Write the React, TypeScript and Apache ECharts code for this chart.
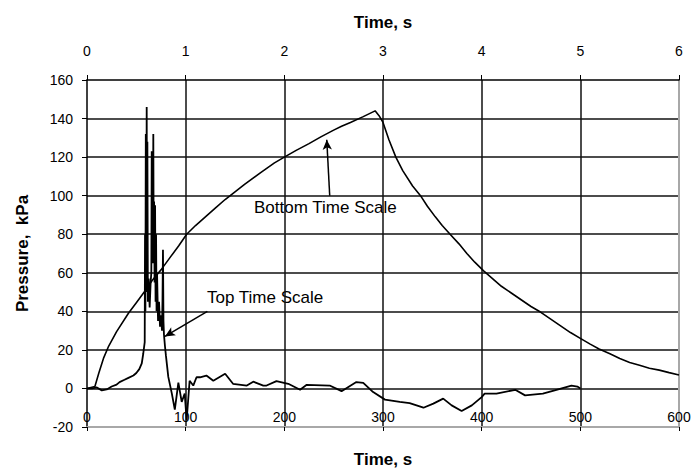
import React, { useEffect, useRef } from "react";
import * as echarts from "echarts";

// Bottom time scale curve (time in s, 0-600)
const bottomTime = [0, 8, 12, 17, 22, 30, 42, 50, 58, 66, 75, 85, 93, 101, 110, 120, 130, 140, 150, 160, 176, 190, 200, 212, 225, 237, 250, 258, 267, 280, 292, 296, 300, 306, 313, 320, 330, 338, 345, 353, 360, 368, 377, 385, 393, 402, 411, 420, 430, 440, 450, 460, 470, 480, 490, 500, 510, 519, 530, 540, 550, 560, 570, 580, 590, 600];
const bottomPressure = [0, 1, 8, 16, 22, 29.5, 39, 44.5, 50, 56, 61.5, 68.5, 74, 80, 84.5, 89, 93.5, 98, 102, 106, 112, 117, 120, 123.5, 127, 130.5, 134, 136, 138, 141, 144, 141.5, 138, 129, 120, 113, 105, 100, 94.5, 89, 84.5, 80, 75, 70, 65.5, 61, 57, 53, 49.5, 46, 42.5, 39.5, 36, 32.5, 29, 26, 23, 20.5, 18, 15.5, 13.5, 12, 10.5, 9.5, 8.2, 7];

// Top time scale curve (time in s, 0-6)
const topTime = [0, 0.05, 0.1, 0.15, 0.2, 0.25, 0.3, 0.33, 0.38, 0.42, 0.47, 0.5, 0.53, 0.555, 0.57, 0.585, 0.588, 0.592, 0.596, 0.6, 0.605, 0.608, 0.612, 0.617, 0.625, 0.635, 0.645, 0.652, 0.656, 0.66, 0.665, 0.668, 0.672, 0.676, 0.68, 0.685, 0.69, 0.695, 0.7, 0.705, 0.71, 0.72, 0.73, 0.74, 0.75, 0.76, 0.765, 0.77, 0.775, 0.78, 0.79, 0.8, 0.824, 0.86, 0.89, 0.926, 0.96, 0.99, 1.01, 1.04, 1.077, 1.11, 1.145, 1.21, 1.28, 1.4, 1.48, 1.62, 1.685, 1.787, 1.82, 1.92, 2.04, 2.16, 2.227, 2.46, 2.58, 2.73, 2.8, 2.9, 3.02, 3.07, 3.17, 3.27, 3.41, 3.51, 3.61, 3.696, 3.797, 3.9, 4.0, 4.03, 4.15, 4.34, 4.44, 4.62, 4.74, 4.91, 4.97, 5.0];
const topPressure = [0, 0, 0.5, -1, -0.5, 1, 2, 3.3, 4.5, 5.5, 6.7, 8, 10, 13, 18, 24, 80, 40, 132, 50, 146, 70, 128, 45, 57, 42, 55, 60, 123, 75, 110, 65, 132, 70, 97, 55, 95, 45, 80, 40, 60, 35, 45, 32, 38, 30, 45, 72, 35, 28, 22, 17, 6, -2.7, -11, 3, -7, -2.6, -16.5, 4, 1.5, 5.8, 5.8, 6.7, 4, 7.6, 2.4, 1.5, 3.5, 1.5, 1.5, 3.8, 2.4, -0.7, 1.9, 1.5, -1.4, 3.3, 2.9, -1.9, -5.8, -6.2, -7, -7.6, -10, -7.9, -5.3, -8.8, -11.7, -8.8, -4.5, -2.7, -2.7, -0.7, -3.6, -2.7, -1, 1.5, 1, 0];

// Axis ranges
const bottomRange = [0, 600, 100];
const topRange = [0, 6, 1];
const pressureRange = [-20, 160, 20];

// Annotation arrows (in bottom time / pressure units)
const bottomArrow = [[246, 100], [243, 129]];
const topArrow = [[122, 40], [79, 27]];
const bottomLabel = "Bottom Time Scale";
const topLabel = "Top Time Scale";

const FONT = "Liberation Sans, Arial, sans-serif";

export default function App() {
  const ref = useRef<HTMLDivElement>(null);
  useEffect(() => {
    if (!ref.current) return;
    const chart = echarts.init(ref.current, undefined, { renderer: "svg" });
    const bottomData = bottomTime.map((t, i) => [t, bottomPressure[i]]);
    const topData = topTime.map((t, i) => [t, topPressure[i]]);
    chart.setOption({
      animation: false,
      backgroundColor: "#fff",
      textStyle: { fontFamily: FONT },
      grid: { left: 87, right: 15, top: 80, bottom: 45, containLabel: false, outerBoundsMode: "none" },
      xAxis: [
        {
          type: "value",
          position: "bottom",
          min: bottomRange[0],
          max: bottomRange[1],
          interval: bottomRange[2],
          name: "Time, s",
          nameLocation: "middle",
          nameGap: 24,
          nameTextStyle: { fontSize: 17, fontWeight: "bold", color: "#000", fontFamily: FONT },
          axisLine: { show: true, onZero: false, lineStyle: { color: "#a8a8a8", width: 2 } },
          axisTick: { show: true, length: 4, lineStyle: { color: "#000" } },
          axisLabel: { inside: true, margin: 3, fontSize: 14, color: "#000", fontFamily: FONT },
          splitLine: { show: true, showMinLine: false, showMaxLine: false, lineStyle: { color: "#111", width: 1.5 } },
        },
        {
          type: "value",
          position: "top",
          min: topRange[0],
          max: topRange[1],
          interval: topRange[2],
          name: "Time, s",
          nameLocation: "middle",
          nameGap: 49,
          nameTextStyle: { fontSize: 17, fontWeight: "bold", color: "#000", fontFamily: FONT },
          axisLine: { show: true, onZero: false, lineStyle: { color: "#000", width: 1.5 } },
          axisTick: { show: true, length: 5, lineStyle: { color: "#000" } },
          axisLabel: { margin: 22, fontSize: 14, color: "#000", fontFamily: FONT },
          splitLine: { show: false },
        },
      ],
      yAxis: [
        {
          type: "value",
          position: "left",
          min: pressureRange[0],
          max: pressureRange[1],
          interval: pressureRange[2],
          name: "Pressure,  kPa",
          nameLocation: "middle",
          nameGap: 56,
          nameTextStyle: { fontSize: 17, fontWeight: "bold", color: "#000", fontFamily: FONT },
          axisLine: { show: true, onZero: false, lineStyle: { color: "#000", width: 1.5 } },
          axisTick: { show: true, length: 5, lineStyle: { color: "#000" } },
          axisLabel: { margin: 14, fontSize: 14, color: "#000", fontFamily: FONT },
          splitLine: { show: true, showMinLine: false, showMaxLine: false, lineStyle: { color: "#111", width: 1.5 } },
        },
        {
          type: "value",
          position: "right",
          min: pressureRange[0],
          max: pressureRange[1],
          interval: pressureRange[2],
          axisLine: { show: true, onZero: false, lineStyle: { color: "#a8a8a8", width: 2 } },
          axisTick: { show: false },
          axisLabel: { show: false },
          splitLine: { show: false },
        },
      ],
      series: [
        {
          type: "line",
          xAxisIndex: 0,
          yAxisIndex: 0,
          data: bottomData,
          showSymbol: false,
          lineStyle: { color: "#000", width: 1.6 },
          markLine: {
            silent: true,
            symbol: ["none", "arrow"],
            symbolSize: [7, 10],
            label: { show: false },
            lineStyle: { color: "#000", width: 1.5, type: "solid" },
            data: [
              [{ coord: bottomArrow[0] }, { coord: bottomArrow[1] }],
              [{ coord: topArrow[0] }, { coord: topArrow[1] }],
            ],
          },
        },
        {
          type: "line",
          xAxisIndex: 1,
          yAxisIndex: 0,
          data: topData,
          showSymbol: false,
          lineStyle: { color: "#000", width: 1.8 },
        },
      ],
      graphic: [
        {
          type: "text",
          left: 254,
          top: 199,
          style: { text: bottomLabel, fontSize: 17, fill: "#000", fontFamily: FONT },
        },
        {
          type: "text",
          left: 207,
          top: 289,
          style: { text: topLabel, fontSize: 17, fill: "#000", fontFamily: FONT },
        },
      ],
    });
    return () => chart.dispose();
  }, []);
  return <div ref={ref} style={{ width: 694, height: 472, position: "absolute", left: 0, top: 0 }} />;
}
